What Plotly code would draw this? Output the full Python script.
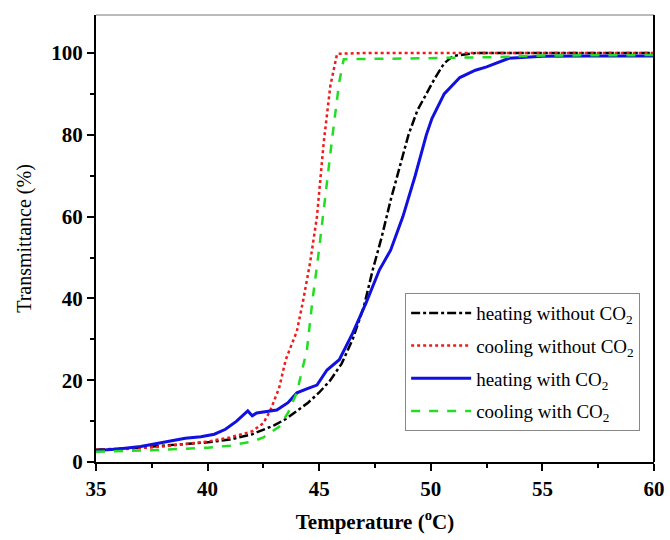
import plotly.graph_objects as go

# heating without CO2
hw_x = [35, 36, 37, 38, 39, 40, 41, 42, 43, 43.5, 44, 44.5, 45, 45.5, 46, 46.5, 47, 47.4, 47.8, 48.2, 48.6, 49, 49.4, 49.8, 50.2, 50.6, 51, 52, 54, 56, 58, 60]
hw_y = [3.0, 3.2, 3.5, 4.0, 4.4, 4.8, 5.5, 6.8, 9.0, 10.5, 12.5, 14.5, 17.0, 20.0, 24.0, 30.0, 38.0, 47.0, 55.0, 64.0, 72.0, 80.0, 86.0, 90.0, 94.0, 97.5, 99.3, 100, 100, 100, 100, 100]

# cooling without CO2
cw_x = [35, 36, 37, 38, 39, 40, 41, 42, 42.5, 42.8, 43.2, 43.5, 44.0, 44.3, 44.6, 44.9, 45.2, 45.5, 45.8, 47, 50, 55, 60]
cw_y = [3.0, 3.1, 3.4, 3.8, 4.4, 5.0, 6.0, 7.5, 9.5, 12.5, 18.0, 25.0, 32.0, 40.0, 49.0, 60.0, 78.0, 92.0, 99.8, 100, 100, 100, 100]

# heating with CO2
hc_x = [35, 36, 37, 38, 39, 39.7, 40.3, 40.8, 41.3, 41.8, 42.0, 42.2, 42.6, 43.1, 43.6, 44.0, 44.5, 44.9, 45.35, 45.9, 46.5, 47.1, 47.7, 48.2, 48.75, 49.3, 49.8, 50.05, 50.6, 51.3, 52.0, 52.5, 53.5, 55, 57, 60]
hc_y = [2.8, 3.2, 3.8, 4.8, 5.8, 6.2, 6.8, 8.0, 10.0, 12.5, 11.3, 12.0, 12.3, 12.7, 14.5, 16.9, 18.0, 18.8, 22.5, 25.0, 31.5, 38.9, 47.0, 51.8, 60.0, 70.0, 80.0, 84.0, 90.0, 94.0, 95.8, 96.6, 98.7, 99.2, 99.3, 99.3]

# cooling with CO2
cc_x = [35, 36, 37, 38, 39, 40, 41, 42, 42.5, 43.2, 43.6, 44.0, 44.45, 44.7, 44.95, 45.2, 45.6, 45.9, 46.1, 48, 50, 53, 55, 60]
cc_y = [2.5, 2.6, 2.8, 3.0, 3.2, 3.5, 4.0, 5.0, 6.0, 8.6, 12.0, 17.0, 27.4, 39.6, 50.0, 62.0, 80.0, 93.0, 98.5, 98.6, 98.7, 99.0, 99.4, 99.5]

x_ticks = [35, 40, 45, 50, 55, 60]
y_ticks = [0, 20, 40, 60, 80, 100]

names = ["heating without CO<sub>2</sub>", "cooling without CO<sub>2</sub>",
         "heating with CO<sub>2</sub>", "cooling with CO<sub>2</sub>"]

fig = go.Figure()
fig.add_trace(go.Scatter(x=hw_x, y=hw_y, mode="lines", name=names[0], legendgroup="a",
                         line=dict(color="black", width=2.5, dash="dashdot")))
fig.add_trace(go.Scatter(x=cw_x, y=cw_y, mode="lines", name=names[1], legendgroup="b",
                         line=dict(color="#ee1c1c", width=2.5, dash="dot")))
fig.add_trace(go.Scatter(x=hc_x, y=hc_y, mode="lines", name=names[2], legendgroup="c",
                         line=dict(color="#1010e0", width=3, dash="solid")))
fig.add_trace(go.Scatter(x=cc_x, y=cc_y, mode="lines", name=names[3], legendgroup="d",
                         line=dict(color="#22dd22", width=2.5, dash="dash")))

font_serif = "Liberation Serif, Times New Roman, serif"
fig.update_layout(
    width=670, height=540,
    margin=dict(l=96, r=16, t=15, b=78),
    plot_bgcolor="white", paper_bgcolor="white",
    font=dict(family=font_serif, color="black"),
    showlegend=True,
    legend=dict(x=0.554, y=0.378, xanchor="left", yanchor="top",
                bgcolor="white", bordercolor="#888888", borderwidth=1,
                font=dict(size=19, family=font_serif), tracegroupgap=5,
                itemwidth=60),
    xaxis=dict(range=[35, 60], tickvals=x_ticks, automargin=False,
               showgrid=False, zeroline=False, showline=True, linecolor="black",
               linewidth=2, ticks="outside", ticklen=7, tickwidth=2, tickcolor="black",
               minor=dict(ticks="outside", ticklen=4, tickwidth=2, tickcolor="black", dtick=2.5),
               tickfont=dict(size=21, family=font_serif, weight="bold"),
               title=dict(text="Temperature (<sup>o</sup>C)", font=dict(size=21, family=font_serif, weight="bold"), standoff=14)),
    yaxis=dict(range=[0, 109.3], tickvals=y_ticks, automargin=False,
               showgrid=False, zeroline=False, showline=True, linecolor="black",
               linewidth=2, ticks="outside", ticklen=7, tickwidth=2, tickcolor="black",
               minor=dict(ticks="outside", ticklen=4, tickwidth=2, tickcolor="black", dtick=10),
               tickfont=dict(size=21, family=font_serif, weight="bold"),
               title=dict(text="Transmittance (%)", font=dict(size=20, family=font_serif), standoff=14)),
)
# top (thin gray) and right (black) frame
fig.add_shape(type="line", xref="paper", yref="paper", x0=0, x1=1, y0=1, y1=1,
              line=dict(color="#777777", width=1))
fig.add_shape(type="line", xref="paper", yref="paper", x0=1, x1=1, y0=0, y1=1,
              line=dict(color="black", width=2))

fig.write_html("out.html")
